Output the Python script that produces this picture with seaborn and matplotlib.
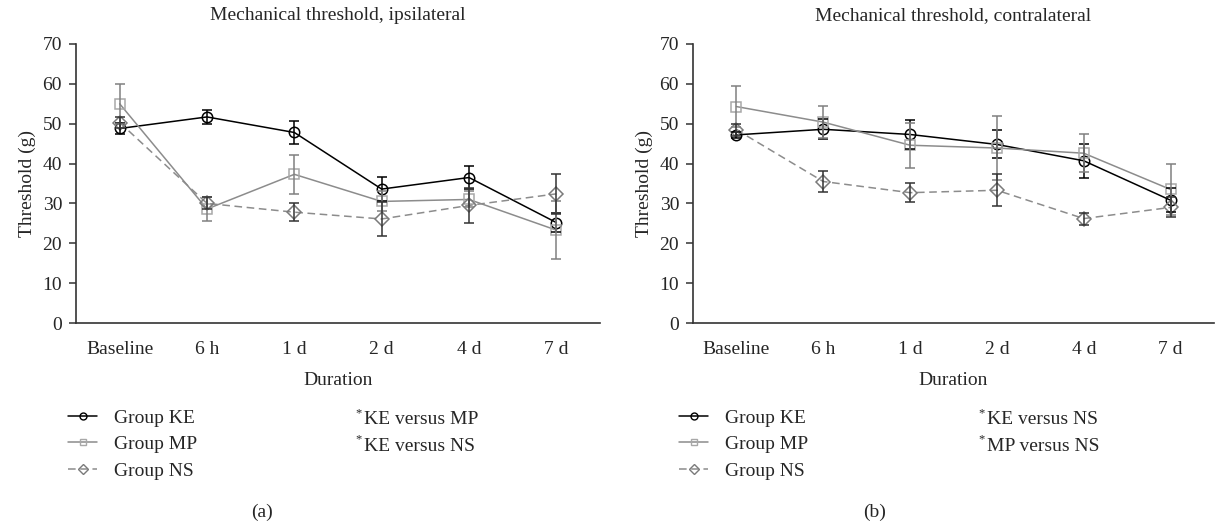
import numpy as np
import pandas as pd
import matplotlib
matplotlib.use('Agg')
import matplotlib.pyplot as plt
from matplotlib.lines import Line2D
import seaborn as sns

# Time points
durations = ['Baseline', '6 h', '1 d', '2 d', '4 d', '7 d']
groups = ['KE', 'MP', 'NS']

# Ipsilateral threshold (g), mean and error
ipsi_ke = [48.8, 51.7, 47.8, 33.6, 36.5, 25.2]
ipsi_ke_err = [1.5, 1.8, 2.8, 3.0, 3.0, 2.4]
ipsi_mp = [55.0, 28.6, 37.3, 30.5, 31.0, 23.3]
ipsi_mp_err = [5.0, 3.0, 4.9, 2.5, 2.0, 7.2]
ipsi_ns = [50.3, 30.0, 27.8, 26.1, 29.5, 32.4]
ipsi_ns_err = [1.5, 1.5, 2.2, 4.2, 4.3, 5.0]

# Contralateral threshold (g), mean and error
contra_ke = [47.2, 48.6, 47.3, 44.8, 40.7, 30.8]
contra_ke_err = [0.8, 2.5, 3.6, 3.5, 4.2, 3.0]
contra_mp = [54.3, 50.4, 44.6, 43.9, 42.6, 33.5]
contra_mp_err = [5.2, 4.0, 5.6, 8.0, 4.8, 6.4]
contra_ns = [48.5, 35.5, 32.7, 33.3, 26.2, 29.0]
contra_ns_err = [1.5, 2.6, 2.4, 4.0, 1.5, 2.5]

sns.set_style('white')
plt.rcParams['font.family'] = ['Liberation Serif', 'DejaVu Serif']
FS = 14

# Line styles per group
line_color = {'KE': '#000000', 'MP': '#8c8c8c', 'NS': '#8c8c8c'}
marker_color = {'KE': '#000000', 'MP': '#a8a8a8', 'NS': '#7a7a7a'}
err_color = {'KE': '#000000', 'MP': '#808080', 'NS': '#333333'}
markers = {'KE': 'o', 'MP': 's', 'NS': 'D'}
msizes = {'KE': 7.5, 'MP': 7.5, 'NS': 7}
lstyles = {'KE': '-', 'MP': '-', 'NS': (0, (5, 3))}


def draw_panel(ax, means, errs, title):
    pos = np.arange(len(durations))
    for g in groups:
        df = pd.DataFrame({'pos': pos, 'value': means[g]})
        sns.lineplot(data=df, x='pos', y='value', ax=ax, color=line_color[g],
                     linestyle=lstyles[g], linewidth=1.1, marker=markers[g],
                     markersize=msizes[g], markerfacecolor='none',
                     markeredgecolor=marker_color[g], markeredgewidth=1.1)
    for g in groups:
        ax.errorbar(pos, means[g], yerr=errs[g], fmt='none', ecolor=err_color[g],
                    elinewidth=1.1, capsize=3.5, capthick=1.1, zorder=5)
    ax.set_xlim(-0.5, len(durations) - 0.5)
    ax.set_ylim(0, 70)
    ax.set_yticks(range(0, 71, 10))
    ax.set_xticks(pos)
    ax.set_xticklabels(durations)
    ax.tick_params(axis='x', length=0, pad=13, labelsize=FS)
    ax.tick_params(axis='y', length=5, width=1.1, color='#333333', pad=5,
                   labelsize=FS, left=True, direction='out')
    ax.set_xlabel('Duration', fontsize=FS, labelpad=10)
    ax.set_ylabel('Threshold (g)', fontsize=FS, labelpad=5)
    ax.set_title(title, fontsize=FS, pad=17)
    for side in ['top', 'right']:
        ax.spines[side].set_visible(False)
    for side in ['left', 'bottom']:
        ax.spines[side].set_color('#333333')
        ax.spines[side].set_linewidth(1.2)


def add_legend(fig, x_handle, notes, x_note, label):
    handles = []
    for g in groups:
        handles.append(Line2D([0], [0], color=line_color[g], linestyle=lstyles[g],
                              linewidth=1.1, marker=markers[g], markersize=5,
                              markerfacecolor='none',
                              markeredgecolor=marker_color[g]))
    fig.legend(handles, ['Group ' + g for g in groups], loc='upper left',
               bbox_to_anchor=(x_handle / 1215, 1 - 409 / 526), frameon=False,
               fontsize=FS, handlelength=1.5, handletextpad=0.85,
               labelspacing=0.46, borderpad=0, borderaxespad=0)
    for i, note in enumerate(notes):
        y = 1 - (420 + i * 26.5) / 526
        fig.text(x_note / 1215, y + 0.002, '*', fontsize=9, va='bottom', ha='left')
        fig.text((x_note + 9) / 1215, y, note, fontsize=FS, va='center', ha='left')
    fig.text(label / 1215, 1 - 512 / 526, label_text[label], fontsize=FS,
             ha='center', va='center')


label_text = {262: '(a)', 875: '(b)'}

fig = plt.figure(figsize=(12.15, 5.26), dpi=100)
ax1 = fig.add_axes([76 / 1215, 1 - 323 / 526, 524 / 1215, 279 / 526])
ax2 = fig.add_axes([693 / 1215, 1 - 323 / 526, 521 / 1215, 279 / 526])

draw_panel(ax1, {'KE': ipsi_ke, 'MP': ipsi_mp, 'NS': ipsi_ns},
           {'KE': ipsi_ke_err, 'MP': ipsi_mp_err, 'NS': ipsi_ns_err},
           'Mechanical threshold, ipsilateral')
draw_panel(ax2, {'KE': contra_ke, 'MP': contra_mp, 'NS': contra_ns},
           {'KE': contra_ke_err, 'MP': contra_mp_err, 'NS': contra_ns_err},
           'Mechanical threshold, contralateral')

add_legend(fig, 68, ['KE versus MP', 'KE versus NS'], 355, 262)
add_legend(fig, 679, ['KE versus NS', 'MP versus NS'], 978, 875)

fig.savefig('out.png', dpi=100)
